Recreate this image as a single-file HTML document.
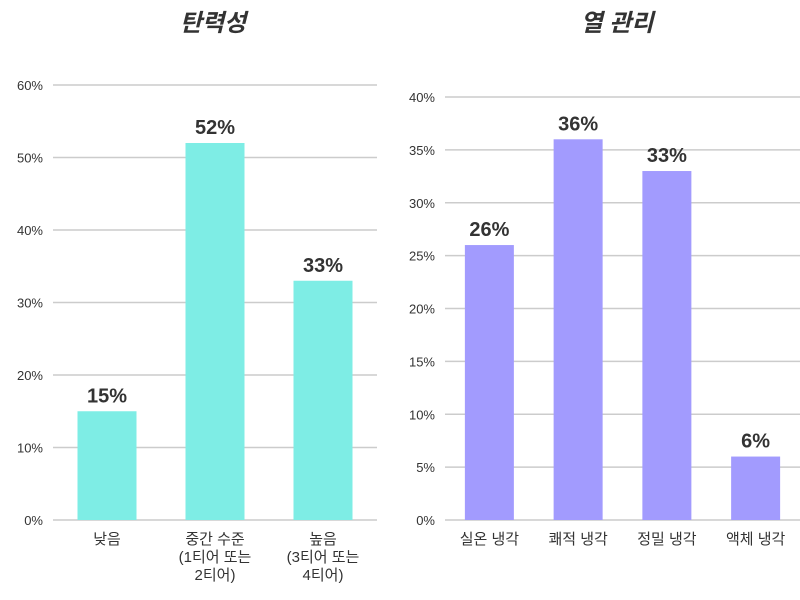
<!DOCTYPE html>
<html><head><meta charset="utf-8"><style>
body{margin:0;background:#fff;}
svg{display:block;font-family:"Liberation Sans","Noto Sans CJK KR",sans-serif;}
</style></head><body>
<svg id="c" width="800" height="600">
<text x="213" y="31" text-anchor="middle" font-size="24" font-weight="bold" font-style="italic" fill="#333">탄력성</text>
<text x="617" y="31" text-anchor="middle" font-size="24" font-weight="bold" font-style="italic" fill="#333">열 관리</text>
</svg>
<script>
const leftCats=[["낮음"],["중간 수준","(1티어 또는","2티어)"],["높음","(3티어 또는","4티어)"]];
const leftVals=[15,52,33];
const leftTicks=[0,10,20,30,40,50,60];
const rightCats=[["실온 냉각"],["쾌적 냉각"],["정밀 냉각"],["액체 냉각"]];
const rightVals=[26,36,33,6];
const rightTicks=[0,5,10,15,20,25,30,35,40];
const svg=document.getElementById('c');
const NS='http://www.w3.org/2000/svg';
function mk(t,a){const e=document.createElementNS(NS,t);for(const k in a)e.setAttribute(k,a[k]);svg.appendChild(e);return e;}
function panel(p,cats,vals,ticks,cfg){
  const maxV=ticks[ticks.length-1];
  const y=v=>cfg.y0-(v/maxV)*(cfg.y0-cfg.yTop);
  const band=(cfg.x1-cfg.x0)/cats.length;
  const xc=i=>cfg.x0+band*(i+0.5);
  ticks.forEach(t=>{
    const g=mk('line',{x1:cfg.x0,x2:cfg.x1,y1:y(t),y2:y(t),stroke:'#ccc','stroke-width':1.5});
    
    
    const l=mk('text',{x:cfg.x0-10,y:y(t)+5,'text-anchor':'end','font-size':13,fill:'#333'});
    l.textContent=t+'%';
    
    
  });
  vals.forEach((v,i)=>{
    const r=mk('rect',{x:xc(i)-cfg.bw/2,y:y(v),width:cfg.bw,height:cfg.y0-y(v),fill:cfg.color});
    
    
    const t=mk('text',{x:xc(i),y:y(v)-9,'text-anchor':'middle','font-size':20,'font-weight':'bold',fill:'#333'});
    t.textContent=v+'%';
    
    
    cats[i].forEach((s,j)=>{
      const c=mk('text',{x:xc(i),y:cfg.y0+24+j*18,'text-anchor':'middle','font-size':15,fill:'#333'});
      c.textContent=s;
      
      
    });
  });
}
panel('left',leftCats,leftVals,leftTicks,{x0:53,x1:377,y0:520,yTop:85,bw:59,color:'#7EEDE5'});
panel('right',rightCats,rightVals,rightTicks,{x0:445,x1:800,y0:520,yTop:97,bw:49,color:'#A29BFE'});
</script>
</body></html>
